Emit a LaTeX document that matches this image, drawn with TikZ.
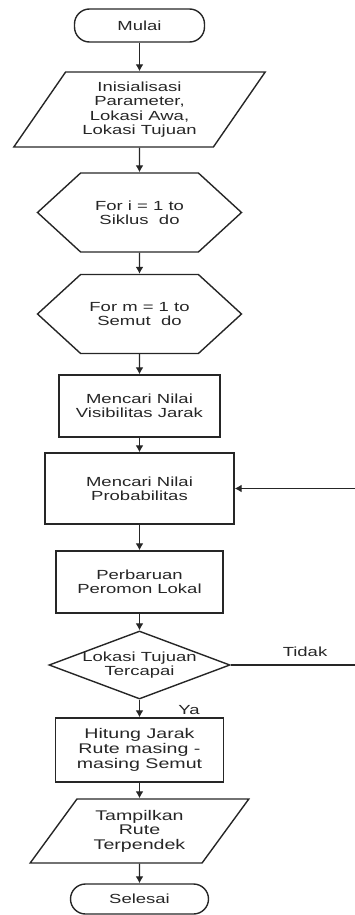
\documentclass[tikz,border=0pt]{standalone}
\usepackage{fontspec}
\setmainfont{Liberation Sans}[FakeStretch=1.4]
\usepackage{tikz}
\usetikzlibrary{shapes.geometric,shapes.symbols,arrows.meta}
\tikzset{chart/.style={draw=black!85, line width=1.4pt, text=black!85,
  align=center, inner sep=0pt, font=\fontsize{13.2}{14.3}\selectfont}}
\tikzset{terminal/.style={chart, rectangle, rounded corners=15pt}}
\tikzset{io/.style={chart, trapezium, trapezium stretches=true}}
\tikzset{loopbox/.style={chart, signal, signal to=east and west,
  signal pointer angle=85, minimum width=204pt, minimum height=79pt}}
\tikzset{process/.style={chart, rectangle}}
\tikzset{decision/.style={chart, diamond}}
\tikzset{flow/.style={draw=black!85, line width=1.3pt,
  -{Latex[length=7pt,width=8pt]}}}
\tikzset{tag/.style={text=black!85, inner sep=0pt,
  font=\fontsize{13.2}{14.3}\selectfont}}

\begin{document}
\begin{tikzpicture}[x=1pt, y=-1pt]
\useasboundingbox (0,0) rectangle (355,915);

\node[terminal, minimum width=130pt, minimum height=33pt] (mulai) at (139.5,25.5) {Mulai};
\node[io, trapezium left angle=54, trapezium right angle=126,
  minimum width=252pt, minimum height=75pt] (init) at (139.5,109.5)
  {Inisialisasi\\Parameter,\\Lokasi Awa,\\Lokasi Tujuan};
\node[loopbox] (siklus) at (139.5,212.5) {For i = 1 to\\Siklus\ \ do};
\node[loopbox] (semut) at (139.5,314) {For m = 1 to\\Semut\ \ do};
\node[process, minimum width=161pt, minimum height=62pt] (visib) at (139.5,406)
  {Mencari Nilai\\Visibilitas Jarak};
\node[process, minimum width=189pt, minimum height=71pt] (prob) at (139.5,488.5)
  {Mencari Nilai\\Probabilitas};
\node[process, minimum width=167pt, minimum height=62pt] (pero) at (139.5,582)
  {Perbaruan\\Peromon Lokal};
\node[decision, minimum width=181pt, minimum height=68pt,
  label={[tag, align=center]center:{Lokasi Tujuan\\Tercapai}}] (cek) at (139.5,665) {};
\node[process, minimum width=168pt, minimum height=64pt,
  font=\fontsize{14}{15}\selectfont] (jarak) at (139.5,750)
  {Hitung Jarak\\Rute masing -\\masing Semut};
\node[io, trapezium left angle=51, trapezium right angle=129,
  minimum width=219pt, minimum height=64pt,
  font=\fontsize{14}{14.6}\selectfont] (hasil) at (139.5,831)
  {Tampilkan\\Rute\\Terpendek};
\node[terminal, minimum width=138pt, minimum height=30pt] (selesai) at (139.5,899) {Selesai};

\coordinate (balik) at (358,665);
\node[tag] (tidak) at (305,652) {Tidak};
\node[tag] (ya) at (189,710) {Ya};

\draw[flow] (mulai) -- (init);
\draw[flow] (init) -- (siklus);
\draw[flow] (siklus) -- (semut);
\draw[flow] (semut) -- (visib);
\draw[flow] (visib) -- (prob);
\draw[flow] (prob) -- (pero);
\draw[flow] (pero) -- (cek);
\draw[flow] (cek) -- (jarak);
\draw[flow] (jarak) -- (hasil);
\draw[flow] (hasil) -- (selesai);
\draw[flow] (cek.east) -- (balik) |- (prob.east);
\end{tikzpicture}
\end{document}
